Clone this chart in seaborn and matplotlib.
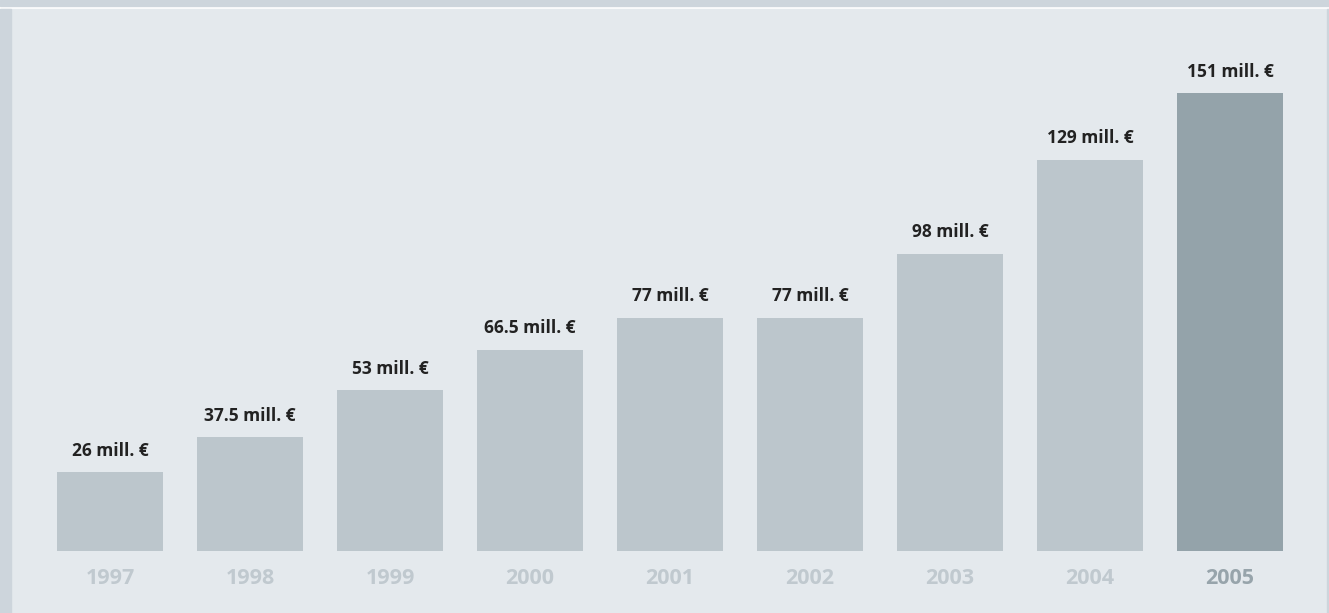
import matplotlib
matplotlib.use("Agg")
import matplotlib.pyplot as plt
from matplotlib import font_manager
from matplotlib.patches import Rectangle
import seaborn as sns
import pandas as pd

# ── data ─────────────────────────────────────────────────────
years  = ["1997", "1998", "1999", "2000", "2001", "2002", "2003", "2004", "2005"]
values = [26, 37.5, 53, 66.5, 77, 77, 98, 129, 151]
labels = ["26 mill. €", "37.5 mill. €", "53 mill. €", "66.5 mill. €", "77 mill. €",
          "77 mill. €", "98 mill. €", "129 mill. €", "151 mill. €"]

# ── style ────────────────────────────────────────────────────
BG       = "#e4e9ed"
BAND     = "#cdd5dc"
BAR      = "#bcc6cc"
BAR_LAST = "#94a3aa"
TXT      = "#222222"
TICK     = "#c0c9cf"
TICK_LAST = "#97a4ab"

sns.set_style("white")
names = {f.name for f in font_manager.fontManager.ttflist}
FONT = "Liberation Sans Narrow" if "Liberation Sans Narrow" in names else "Open Sans"
plt.rcParams["font.family"] = [FONT, "DejaVu Sans"]

W, H = 1329, 613
fig = plt.figure(figsize=(W / 100, H / 100), dpi=100)
fig.patch.set_facecolor("white")

# background bands (behind the axes)
fig.patches.append(Rectangle((0, 1 - 6 / H), 1, 6 / H, transform=fig.transFigure,
                             color=BAND, zorder=-2))
fig.patches.append(Rectangle((0, 0), 1, 1 - 9 / H, transform=fig.transFigure,
                             color=BG, zorder=-2))
for (x0, w) in [(0, 11 / W), (1327 / W, 2 / W)]:
    fig.patches.append(Rectangle((x0, 0), w, 1 - 9 / H, transform=fig.transFigure,
                                 color=BAND, zorder=-1))

# axes: x from px 11 to 1327, baseline at px 551, top at px 9
ax = fig.add_axes([11 / W, 1 - 551 / H, (1327 - 11) / W, (551 - 9) / H])
ax.set_facecolor("none")
ax.set_zorder(1)

df = pd.DataFrame({"year": years, "value": values})
palette = [BAR] * (len(years) - 1) + [BAR_LAST]
sns.barplot(data=df, x="year", y="value", hue="year", palette=palette,
            legend=False, width=106 / 140, saturation=1, linewidth=0, ax=ax)

ax.set_xlim(-(110 - 11) / 140, 8 + (1327 - 1230) / 140)
ax.set_ylim(0, 542 / 3.03)

for i, (v, lab) in enumerate(zip(values, labels)):
    ax.annotate(lab, (i, v), xytext=(0, 12), textcoords="offset points",
                ha="center", va="baseline", fontsize=12.5, fontweight="bold",
                color=TXT)

ax.set_xlabel("")
ax.set_ylabel("")
ax.set_yticks([])
ax.tick_params(axis="x", length=0, pad=12)
for i, t in enumerate(ax.get_xticklabels()):
    t.set_fontsize(15.5)
    t.set_fontweight("bold")
    t.set_color(TICK_LAST if i == len(years) - 1 else TICK)
for s in ax.spines.values():
    s.set_visible(False)

plt.savefig("out.png", dpi=100, facecolor=fig.get_facecolor())
